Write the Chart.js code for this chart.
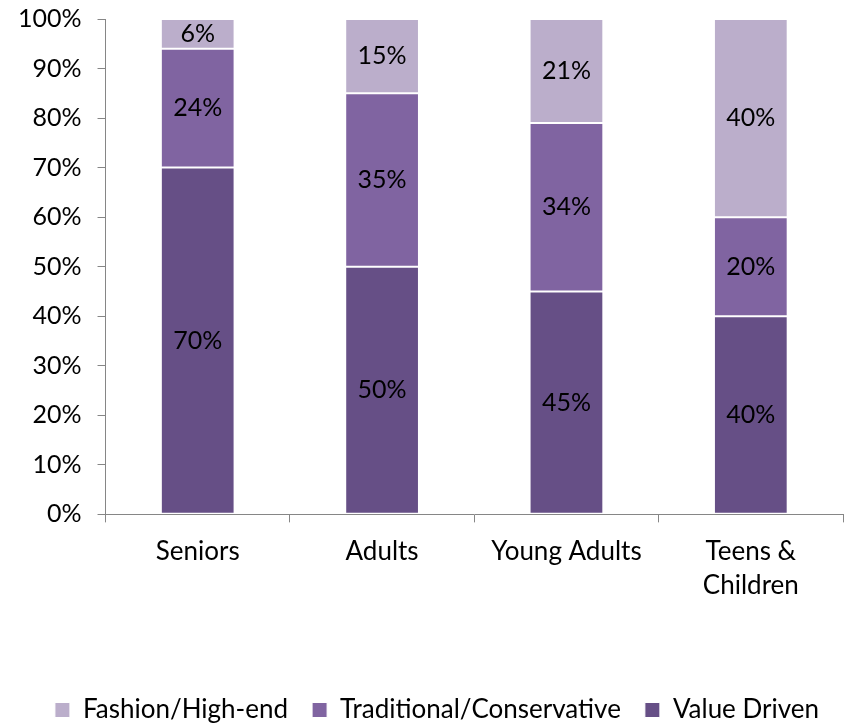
<!DOCTYPE html>
<html>
<head>
<meta charset="utf-8">
<script src="https://cdn.jsdelivr.net/npm/chart.js@4"></script>
<style>
  html, body { margin:0; padding:0; background:#fff; }
  #wrap { width:845px; height:724px; }
</style>
</head>
<body>
<div id="wrap"><canvas id="c"></canvas></div>
<script>
// ── DATA ────────────────────────────────────────────────────
const categories   = ['Seniors', 'Adults', 'Young Adults', ['Teens &', 'Children']];
const valueDriven  = [70, 50, 45, 40];
const traditional  = [24, 35, 34, 20];
const fashion      = [6, 15, 21, 40];
const yTicks       = [0, 10, 20, 30, 40, 50, 60, 70, 80, 90, 100];

const FONT = 'Lato, "Open Sans", sans-serif';

// labels in the middle of each segment
const segLabels = {
  id: 'segLabels',
  afterDatasetsDraw(chart) {
    const ctx = chart.ctx;
    ctx.save();
    ctx.font = '25px ' + FONT;
    ctx.fillStyle = '#000';
    ctx.textAlign = 'center';
    ctx.textBaseline = 'middle';
    chart.data.datasets.forEach((ds, i) => {
      chart.getDatasetMeta(i).data.forEach((bar, j) => {
        const mid = (bar.y + bar.base) / 2;
        ctx.fillText(ds.data[j] + '%', bar.x, mid);
      });
    });
    ctx.restore();
  }
};

new Chart(document.getElementById('c'), {
  type: 'bar',
  data: {
    labels: categories,
    datasets: [
      { label:'Value Driven', data:valueDriven, backgroundColor:'#664f86', borderColor:'#fff', borderWidth:1, borderSkipped:false },
      { label:'Traditional/Conservative', data:traditional, backgroundColor:'#8064a1', borderColor:'#fff', borderWidth:1, borderSkipped:false },
      { label:'Fashion/High-end', data:fashion, backgroundColor:'#bbaecb', borderColor:'#fff', borderWidth:1, borderSkipped:false }
    ]
  },
  options: {
    responsive: true, maintainAspectRatio: false, animation: false,
    datasets: { bar: { categoryPercentage: 1, barPercentage: 0.4 } },
    layout: { padding: { top: 0, right: 2, left: 2, bottom: -9 } },
    plugins: {
      tooltip: { enabled: false },
      legend: {
        position: 'bottom', reverse: true, align: 'end',
        labels: { font: { size: 26, family: FONT }, color: '#000', boxWidth: 15, boxHeight: 15, padding: 24 }
      }
    },
    scales: {
      x: {
        stacked: true,
        afterFit: ax => { ax.height += 58; },
        ticks: { font: { size: 26, family: FONT, lineHeight: 1.32 }, color: '#000', padding: 12 },
        grid: { drawOnChartArea: false, tickLength: 8, color: '#868686', offset: true },
        border: { color: '#868686', width: 1 }
      },
      y: {
        stacked: true, min: 0, max: 100,
        afterBuildTicks: ax => { ax.ticks = yTicks.map(v => ({ value: v })); },
        afterFit: ax => { ax.paddingTop = 19; },
        ticks: { font: { size: 25, family: FONT }, color: '#000', padding: 16, callback: v => v + '%' },
        grid: { drawOnChartArea: false, tickLength: 8, color: '#868686' },
        border: { color: '#868686', width: 1 }
      }
    }
  },
  plugins: [segLabels]
});
</script>
</body>
</html>
